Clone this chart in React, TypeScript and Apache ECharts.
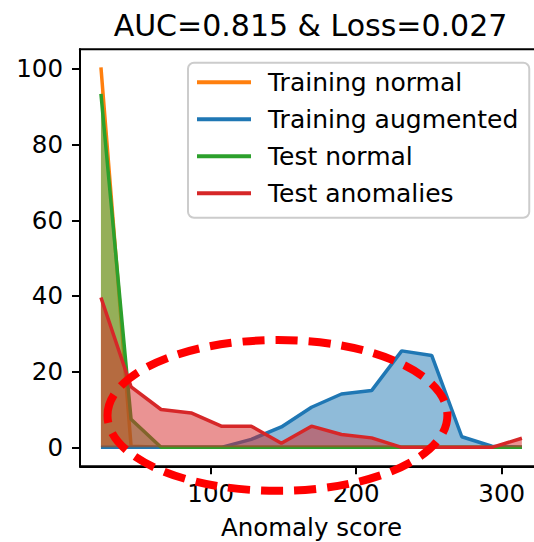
import React, { useEffect, useRef } from "react";
import * as echarts from "echarts";

// Bin centres (anomaly score)
const scores = [24.6, 45.3, 65.9, 86.6, 107.3, 127.9, 148.6, 169.3, 189.9, 210.6, 231.3, 251.9, 272.6, 293.3, 313.9];
const trainingNormal = [100.4, 0.3, 0, 0, 0, 0, 0, 0, 0, 0, 0, 0, 0, 0, 0];
const trainingAugmented = [0, 0, 0, 0, 0, 2.1, 5.4, 10.6, 14.1, 15.0, 25.5, 24.3, 2.8, 0.3, 0];
const testNormal = [93.4, 7.4, 0, 0, 0, 0, 0, 0, 0, 0, 0, 0, 0, 0, 0];
const testAnomalies = [39.6, 16.0, 10.0, 9.1, 5.6, 5.6, 1.1, 5.6, 3.4, 2.5, 0, 0, 0, 0, 2.4];

const seriesNames = ["Training normal", "Training augmented", "Test normal", "Test anomalies"];
const seriesColors = ["#ff7f0e", "#1f77b4", "#2ca02c", "#d62728"];
const seriesValues = [trainingNormal, trainingAugmented, testNormal, testAnomalies];

const xTicks = [100, 200, 300];
const yTicks = [0, 20, 40, 60, 80, 100];
const titleText = "AUC=0.815 & Loss=0.027";
const xName = "Anomaly score";

// Highlight ellipse in data units: centre, half-width, half-height
const ellipseCenter = [145.9, 8.43];
const ellipseRadii = [116.8, 19.93];

const FONT = "DejaVu Sans";

export default function App() {
  const ref = useRef<HTMLDivElement>(null);
  useEffect(() => {
    if (!ref.current) return;
    const chart = echarts.init(ref.current, null, { renderer: "svg" });
    const option: any = {
      animation: false,
      backgroundColor: "#ffffff",
      textStyle: { fontFamily: FONT },
      title: {
        text: titleText,
        left: 305.5,
        top: 5,
        textAlign: "center",
        textStyle: { fontFamily: FONT, fontSize: 30, fontWeight: "normal", color: "#000" },
      },
      grid: {
        left: 80,
        top: 49.3,
        width: 463,
        height: 417,
        outerBoundsMode: "none",
        containLabel: false,
        show: true,
        borderColor: "#000",
        borderWidth: 2,
        backgroundColor: "transparent",
      },
      legend: {
        orient: "vertical",
        left: 188,
        top: 62.7,
        padding: [7, 11, 12, 9],
        itemGap: 12,
        itemWidth: 54,
        itemHeight: 4,
        icon: "rect",
        backgroundColor: "rgba(255,255,255,0.8)",
        borderColor: "#cccccc",
        borderWidth: 2,
        borderRadius: 6,
        textStyle: { fontFamily: FONT, fontSize: 25, color: "#000", padding: [0, 0, 0, 12] },
        data: seriesNames,
      },
      xAxis: {
        type: "value",
        min: 10.2,
        max: 328.4,
        name: xName,
        nameLocation: "middle",
        nameGap: 49,
        nameTextStyle: { fontFamily: FONT, fontSize: 24.5, color: "#000" },
        axisLine: { show: true, onZero: false, lineStyle: { color: "#000", width: 2 } },
        axisTick: { show: true, length: 8, lineStyle: { color: "#000", width: 2 }, customValues: xTicks },
        axisLabel: { fontFamily: FONT, fontSize: 24.5, color: "#000", margin: 15, customValues: xTicks },
        splitLine: { show: false },
      },
      yAxis: {
        type: "value",
        min: -5.01,
        max: 105.2,
        axisLine: { show: true, onZero: false, lineStyle: { color: "#000", width: 2 } },
        axisTick: { show: true, length: 8, lineStyle: { color: "#000", width: 2 }, customValues: yTicks },
        axisLabel: { fontFamily: FONT, fontSize: 24.5, color: "#000", margin: 17, customValues: yTicks },
        splitLine: { show: false },
      },
      series: seriesNames.map((name, i) => ({
        name,
        type: "line",
        data: scores.map((x, j) => [x, seriesValues[i][j]]),
        showSymbol: false,
        symbol: "none",
        color: seriesColors[i],
        lineStyle: { color: seriesColors[i], width: 3.5 },
        areaStyle: { color: seriesColors[i], opacity: 0.5 },
        z: 2 + i,
      })),
    };
    chart.setOption(option);
    const c = chart.convertToPixel({ gridIndex: 0 }, ellipseCenter) as number[];
    const r = chart.convertToPixel({ gridIndex: 0 }, [ellipseCenter[0] + ellipseRadii[0], ellipseCenter[1] + ellipseRadii[1]]) as number[];
    chart.setOption({
      graphic: [
        {
          type: "ellipse",
          z: 100,
          shape: { cx: c[0], cy: c[1], rx: Math.abs(r[0] - c[0]), ry: Math.abs(r[1] - c[1]) },
          style: { fill: "none", stroke: "#ff0000", lineWidth: 8, lineDash: [22, 11] },
        },
      ],
    });
    return () => chart.dispose();
  }, []);
  return (
    <div style={{ position: "absolute", left: 0, top: 0, width: 534, height: 542, overflow: "hidden" }}>
      <div ref={ref} style={{ width: 560, height: 542 }} />
    </div>
  );
}
